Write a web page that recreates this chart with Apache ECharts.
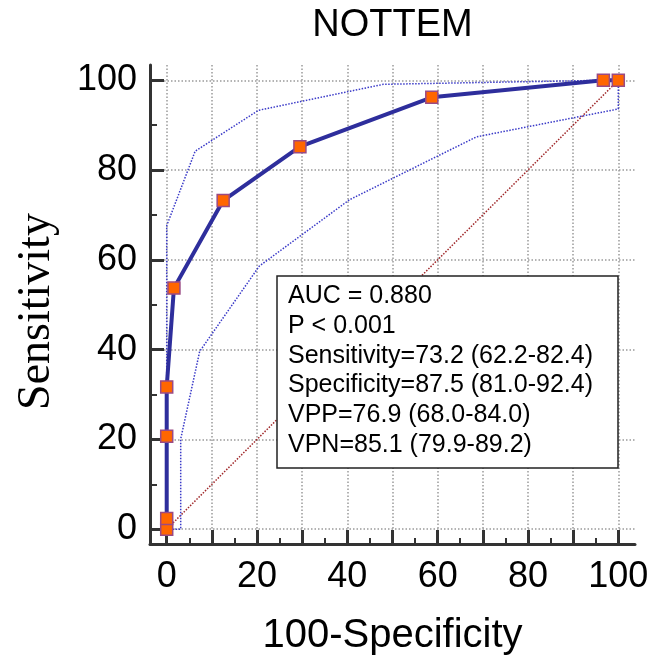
<!DOCTYPE html>
<html>
<head>
<meta charset="UTF-8">
<title>NOTTEM ROC</title>
<script src="https://cdn.jsdelivr.net/npm/echarts@6/dist/echarts.min.js"></script>
<style>
  html, body { margin: 0; padding: 0; background: #fff; }
  #main { width: 664px; height: 661px; }
</style>
</head>
<body>
<div id="main"></div>
<script>
// ROC curve (x = 100-Specificity, y = Sensitivity)
var rocX = [0, 0, 0, 0, 1.6, 12.5, 29.5, 58.7, 96.7, 100];
var rocY = [0, 2.4, 20.7, 31.7, 53.7, 73.2, 85.2, 96.2, 100, 100];
// confidence bands
var upperX = [0, 0, 6.3, 20.3, 38.4, 48, 96.7, 100];
var upperY = [0, 67.6, 84.2, 93.3, 97.1, 99.1, 100, 100];
var lowerX = [0, 3.1, 3.1, 7.3, 20.5, 40.5, 68.6, 100, 100];
var lowerY = [0, 0, 20.1, 39.6, 58.6, 73.4, 87.4, 93.6, 100];
// reference diagonal
var diagX = [0, 100];
var diagY = [0, 100];
// axis ticks
var xMajor = [0, 10, 20, 30, 40, 50, 60, 70, 80, 90, 100];
var xMinor = [5, 15, 25, 35, 45, 55, 65, 75, 85, 95];
var yMajor = [0, 20, 40, 60, 80, 100];
var yMinor = [10, 30, 50, 70, 90];
var tickLabels = [0, 20, 40, 60, 80, 100];
var statsLines = [
  'AUC = 0.880',
  'P < 0.001',
  'Sensitivity=73.2 (62.2-82.4)',
  'Specificity=87.5 (81.0-92.4)',
  'VPP=76.9 (68.0-84.0)',
  'VPN=85.1 (79.9-89.2)'
];

function zip(xs, ys) {
  return xs.map(function (x, i) { return [x, ys[i]]; });
}

var sans = "'Liberation Sans', Arial, sans-serif";
var serif = "'Liberation Serif', 'Times New Roman', serif";
var axisCol = '#333';
var gridLine = { show: true, lineStyle: { color: '#9a9a9a', width: 1.5, type: [1.5, 2] } };

// an extra axis that only draws ticks (and optionally grid lines)
function tickAxis(base, pos, values, len, width, split) {
  return {
    type: 'value', min: base.min, max: base.max, position: pos,
    axisLine: { show: false, onZero: false },
    axisTick: { show: true, inside: true, length: len, customValues: values, lineStyle: { color: axisCol, width: width } },
    axisLabel: { show: false },
    splitLine: split ? gridLine : { show: false }
  };
}

var xRange = { min: -3.7, max: 103.7 };
var yRange = { min: -3.3, max: 103.4 };

var chart = echarts.init(document.getElementById('main'));

var option = {
  animation: false,
  backgroundColor: '#fff',
  title: {
    text: 'NOTTEM',
    left: 392.5,
    textAlign: 'center',
    top: 7,
    padding: 0,
    textStyle: { fontFamily: sans, fontSize: 38, fontWeight: 'normal', color: '#000' }
  },
  grid: { left: 150, right: 29, top: 65, bottom: 114 },
  xAxis: [
    {
      type: 'value', min: xRange.min, max: xRange.max, position: 'bottom',
      name: '100-Specificity', nameLocation: 'middle', nameGap: 72,
      nameTextStyle: { fontFamily: sans, fontSize: 40, color: '#000' },
      axisLine: { show: true, onZero: false, lineStyle: { color: axisCol, width: 3 } },
      axisTick: { show: false },
      axisLabel: { customValues: tickLabels, margin: 15, fontFamily: sans, fontSize: 36, color: '#000' },
      splitLine: { show: false }
    },
    tickAxis(xRange, 'bottom', xMajor, 14, 3, true),
    tickAxis(xRange, 'bottom', xMinor, 6, 2, false)
  ],
  yAxis: [
    {
      type: 'value', min: yRange.min, max: yRange.max, position: 'left',
      name: 'Sensitivity', nameLocation: 'middle', nameGap: 90,
      nameTextStyle: { fontFamily: serif, fontSize: 46, color: '#000', padding: [0, 14, 0, 0] },
      axisLine: { show: true, onZero: false, lineStyle: { color: axisCol, width: 3 } },
      axisTick: { show: false },
      axisLabel: { customValues: tickLabels, margin: 13, fontFamily: sans, fontSize: 36, color: '#000' },
      splitLine: { show: false }
    },
    tickAxis(yRange, 'left', yMajor, 14, 3, true),
    tickAxis(yRange, 'left', yMinor, 7, 2, false)
  ],
  series: [
    {
      type: 'line', data: zip(diagX, diagY), showSymbol: false, silent: true,
      lineStyle: { color: '#a0282a', width: 1.5, type: [1.5, 1.5] }
    },
    {
      type: 'line', data: zip(upperX, upperY), showSymbol: false, silent: true,
      lineStyle: { color: '#3a3ac8', width: 1.5, type: [1.5, 1.5] }
    },
    {
      type: 'line', data: zip(lowerX, lowerY), showSymbol: false, silent: true,
      lineStyle: { color: '#3a3ac8', width: 1.5, type: [1.5, 1.5] }
    },
    {
      type: 'line', data: zip(rocX, rocY), silent: true,
      symbol: 'rect', symbolSize: 12, showSymbol: true, showAllSymbol: true,
      lineStyle: { color: '#2e2e9c', width: 4 },
      itemStyle: { color: '#ff6600', borderColor: '#9a4a84', borderWidth: 1.5 },
      z: 5
    }
  ],
  graphic: [
    {
      type: 'rect', z: 100,
      shape: { x: 277, y: 276, width: 341, height: 192 },
      style: { fill: '#fff', stroke: '#222', lineWidth: 1.5 }
    },
    {
      type: 'text', z: 101, x: 288, y: 281.6,
      style: {
        text: statsLines.join('\n'),
        font: '25px ' + sans,
        lineHeight: 29.7,
        fill: '#000',
        verticalAlign: 'top'
      }
    }
  ]
};

chart.setOption(option);
</script>
</body>
</html>
